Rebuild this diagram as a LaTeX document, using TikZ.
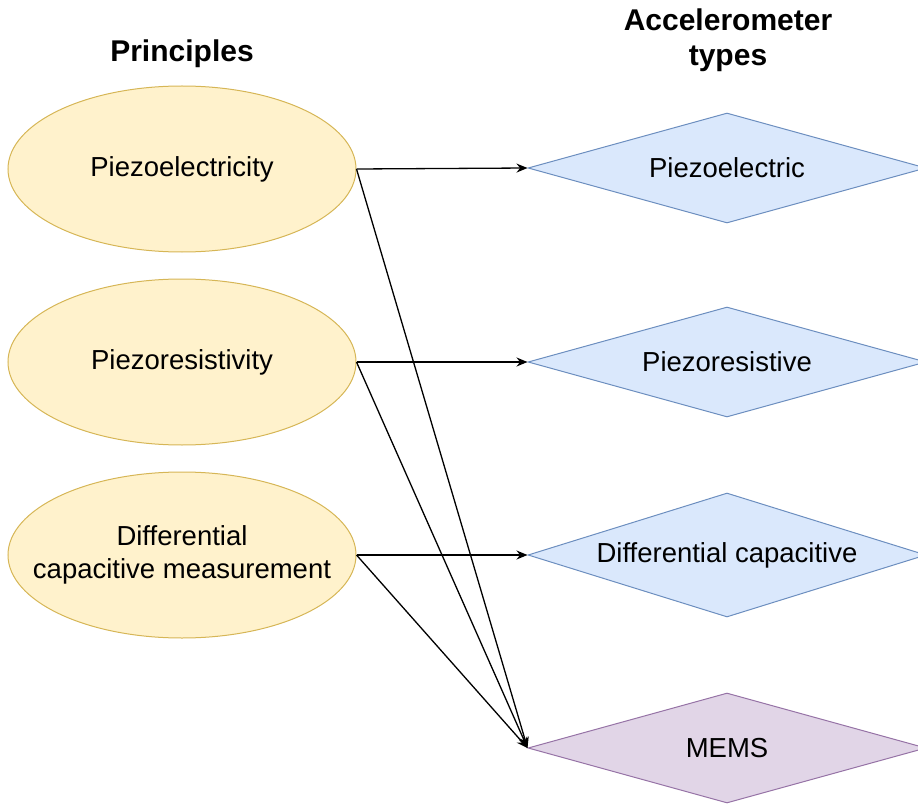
\documentclass[tikz,border=0pt]{standalone}
\usepackage{fontspec}
\setmainfont{Liberation Sans}
\usetikzlibrary{shapes.geometric,arrows.meta}
\definecolor{prinfill}{HTML}{FFF2CC}
\definecolor{prinline}{HTML}{D6B656}
\definecolor{typefill}{HTML}{DAE8FC}
\definecolor{typeline}{HTML}{6C8EBF}
\definecolor{memsfill}{HTML}{E1D5E7}
\definecolor{memsline}{HTML}{9673A6}
\begin{document}
\begin{tikzpicture}[x=1pt,y=-1pt,
  principle/.style={ellipse,draw=prinline,fill=prinfill,line width=1pt,
    minimum width=348pt,minimum height=166pt,inner sep=0pt},
  acctype/.style={diamond,draw=typeline,fill=typefill,line width=1pt,
    minimum width=398pt,minimum height=110pt,inner sep=0pt},
  memstype/.style={acctype,draw=memsline,fill=memsfill},
  label/.style={font=\fontsize{27.5}{33}\selectfont,align=center,inner sep=0pt},
  heading/.style={font=\bfseries\fontsize{30}{35}\selectfont,align=center},
  link/.style={line width=1.3pt,-{Stealth[length=11pt,width=9pt]}}]
\useasboundingbox (0,0) rectangle (918,805);
\clip (0,0) rectangle (918,805);

% column headings
\node[heading] (hprin) at (182,54) {Principles};
\node[heading] (htype) at (728,40) {Accelerometer\\types};

% sensing principles (fixed-size shapes, text set on top)
\node[principle] (p1) at (182,169) {};
\node[principle] (p2) at (182,362) {};
\node[principle] (p3) at (182,555) {};
\node[label] (p1l) at (p1.center) {Piezoelectricity};
\node[label] (p2l) at (p2.center) {Piezoresistivity};
\node[label] (p3l) at (p3.center) {Differential\\capacitive measurement};

% accelerometer types
\node[acctype] (t1) at (727,168) {};
\node[acctype] (t2) at (727,362) {};
\node[acctype,minimum height=124pt] (t3) at (727,555) {};
\node[memstype] (t4) at (727,748) {};
\node[label] (t1l) at (t1.center) {Piezoelectric};
\node[label] (t2l) at (t2.center) {Piezoresistive};
\node[label] (t3l) at (t3.center) {Differential capacitive};
\node[label] (t4l) at (t4.center) {MEMS};

% principle to type
\draw[link] (p1.east) -- (t1.west);
\draw[link] (p2.east) -- (t2.west);
\draw[link] (p3.east) -- (t3.west);
\draw[link] (p1.east) -- (t4.west);
\draw[link] (p2.east) -- (t4.west);
\draw[link] (p3.east) -- (t4.west);
\end{tikzpicture}
\end{document}
